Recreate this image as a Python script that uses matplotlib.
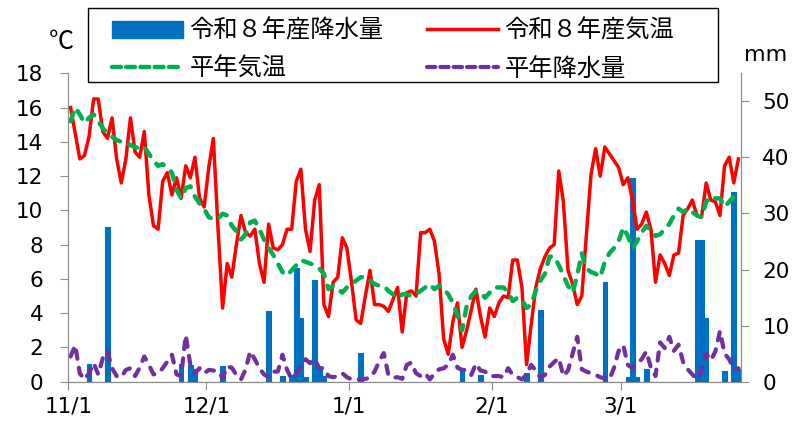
import matplotlib
matplotlib.use("Agg")
import numpy as np
import matplotlib.pyplot as plt
from matplotlib.patches import Patch, Rectangle
from matplotlib.lines import Line2D

plt.rcParams['font.family'] = ['Noto Sans CJK JP', 'DejaVu Sans']

# daily series, 11/1 .. 3/26 (146 days)
temp_r8 = [16.0, 14.5, 13.0, 13.2, 14.3, 16.5, 16.5, 14.6, 14.2, 15.4,
           13.0, 11.6, 13.0, 15.4, 13.4, 13.1, 14.6, 10.9, 9.1, 8.9,
           11.7, 12.2, 10.9, 11.9, 10.7, 12.6, 11.9, 13.1, 10.7, 10.2,
           12.5, 14.2, 9.0, 4.3, 6.9, 6.1, 8.0, 9.7, 8.7, 8.5,
           8.9, 6.9, 5.8, 9.2, 7.8, 7.7, 8.0, 8.9, 8.9, 11.7,
           12.4, 8.9, 7.6, 10.6, 11.5, 4.5, 3.8, 5.8, 6.1, 8.4,
           7.8, 5.8, 3.6, 3.4, 5.0, 6.5, 4.5, 4.5, 4.4, 4.1,
           4.8, 5.5, 2.9, 5.2, 5.3, 5.0, 8.7, 8.7, 8.9, 8.2,
           6.3, 2.5, 1.6, 3.5, 4.6, 2.0, 3.0, 4.2, 5.4, 3.8,
           2.6, 4.3, 3.8, 4.6, 5.0, 4.9, 7.1, 7.1, 5.5, 1.0,
           3.3, 5.5, 6.6, 7.3, 7.8, 8.0, 12.3, 10.5, 6.5, 5.7,
           4.5, 5.0, 8.6, 12.1, 13.6, 12.0, 13.7, 13.3, 12.9, 12.5,
           11.5, 11.9, 10.6, 8.9, 9.2, 9.9, 8.9, 5.8, 7.4, 6.9,
           6.2, 7.4, 7.5, 9.7, 10.1, 10.6, 9.7, 9.6, 11.6, 10.6,
           10.5, 9.7, 12.6, 13.1, 11.6, 13.0]

temp_normal = [15.2, 16.0, 15.6, 15.1, 15.4, 15.6, 15.2, 14.8, 14.5, 14.3,
               14.1, 14.0, 14.0, 13.8, 13.7, 13.6, 13.7, 13.3, 12.9, 12.6,
               12.7, 12.5, 12.2, 11.2, 10.7, 11.3, 11.4, 10.8, 10.4, 10.1,
               9.6, 9.5, 9.5, 9.8, 9.7, 9.1, 8.8, 8.3, 8.6, 9.3,
               9.4, 8.9, 8.3, 7.8, 7.4, 6.9, 6.4, 6.2, 6.5, 6.8,
               7.1, 7.0, 6.9, 6.8, 6.6, 6.3, 5.4, 5.6, 5.4, 5.2,
               5.5, 5.7, 5.9, 6.1, 6.1, 5.9, 5.7, 5.6, 5.6, 5.3,
               5.1, 4.9, 5.1, 5.1, 5.0, 5.1, 5.3, 5.5, 5.7, 5.4,
               5.6, 5.4, 5.1, 4.6, 3.9, 3.0, 4.4, 5.0, 5.3, 5.2,
               4.9, 5.2, 5.5, 5.5, 5.5, 5.2, 4.7, 4.9, 4.8, 4.3,
               4.5, 5.3, 5.9, 6.3, 7.3, 7.3, 6.8, 6.2, 5.6, 5.2,
               6.2, 7.5, 6.6, 6.4, 6.3, 6.1, 7.0, 7.5, 7.8, 8.2,
               9.0, 8.5, 7.8, 8.2, 8.7, 9.1, 8.8, 8.5, 8.6, 8.9,
               9.2, 9.7, 10.1, 9.9, 10.1, 9.9, 9.7, 9.6, 10.5, 10.8,
               10.7, 10.7, 10.2, 10.5, 10.8, 11.0]

rain_r8 = [0, 0, 0, 0, 3.2, 0, 0, 0, 27.6, 0,
           0, 0, 0, 0, 0, 0, 0, 0, 0, 0,
           0, 0, 0, 0, 3.2, 0, 2.9, 2.2, 0, 0,
           0, 0, 0, 2.8, 0, 0, 0, 0, 0, 0,
           0, 0, 0, 12.6, 0, 0, 1.0, 0, 1.2, 20.3,
           11.4, 0.8, 0, 18.2, 2.3, 1.0, 0, 0, 0, 0,
           0, 0, 0, 5.2, 0, 0, 0, 0, 0, 0,
           0, 0, 0, 0, 0, 0, 0, 0, 0, 0,
           0, 0, 0, 0, 0, 2.1, 0, 0, 0, 1.2,
           0, 0, 0, 0, 0, 0, 0, 0, 0, 1.6,
           0, 0, 12.7, 0, 0, 0, 0, 0, 0, 0,
           0, 0, 0, 0, 0, 0, 17.8, 0, 0, 0,
           0, 0.8, 36.4, 0.8, 0, 2.2, 0, 0, 0, 0,
           0, 0, 0, 0, 0, 0, 25.3, 25.3, 11.3, 0,
           0, 0, 1.9, 0, 33.9, 2.2]

rain_normal = [4.5, 6.5, 1.5, 0.4, 1.5, 3.3, 1.3, 4.2, 5.4, 2.4,
               1.0, 0.8, 2.1, 2.4, 1.0, 2.5, 4.5, 3.0, 1.3, 1.5,
               2.4, 3.6, 4.8, 1.3, 1.0, 8.3, 3.0, 1.5, 2.4, 1.5,
               2.1, 2.0, 1.8, 0.7, 2.7, 2.5, 1.2, 0.4, 2.2, 5.4,
               4.0, 2.4, 1.3, 0.8, 1.8, 1.8, 4.8, 2.1, 0.5, 1.5,
               2.5, 4.0, 3.3, 4.0, 2.4, 2.4, 1.0, 0.8, 1.0, 1.5,
               0.8, 0.4, 0.4, 0.4, 0.5, 0.7, 1.8, 3.6, 5.1, 1.2,
               0.7, 0.8, 0.5, 3.0, 3.4, 1.5, 1.0, 1.5, 0.4, 1.5,
               2.2, 2.4, 3.0, 4.8, 2.5, 2.1, 2.1, 1.2, 3.2, 2.0,
               1.8, 1.0, 1.0, 1.0, 0.8, 2.4, 1.2, 0.8, 0.4, 1.3,
               3.0, 2.0, 0.7, 1.2, 2.7, 3.5, 4.2, 1.0, 2.0, 5.0,
               8.0, 2.2, 1.8, 1.5, 1.2, 0.8, 0.6, 0.4, 2.5, 5.5,
               6.5, 3.0, 2.4, 3.2, 4.0, 5.4, 2.5, 1.0, 7.0, 6.0,
               8.0, 5.5, 6.6, 3.5, 2.2, 1.3, 0.4, 2.0, 5.0, 3.8,
               5.4, 9.0, 5.0, 4.0, 2.2, 2.4]

month_labels = ["11/1", "12/1", "1/1", "2/1", "3/1"]
month_start = [0, 30, 61, 92, 120]   # day offset of each month from 11/1

BLUE, RED, GREEN, PURPLE = "#0070C0", "#FF0000", "#00B050", "#7030A0"
GRAY = "#8C8C8C"
NUM_FONT = "DejaVu Sans"

days = np.arange(len(temp_r8))

fig = plt.figure(figsize=(7.95, 4.21), dpi=100)
ax = fig.add_axes([0.0859, 0.0934, 0.8458, 0.7325])
ax2 = ax.twinx()
ax.set_zorder(ax2.get_zorder() + 1)
ax.patch.set_visible(False)

# precipitation on the right axis
ax2.bar(days, rain_r8, width=1.0, color=BLUE, edgecolor=BLUE, linewidth=0.8)
ax2.plot(days, rain_normal, color=PURPLE, lw=3.0, dashes=(2.0, 2.2),
         dash_capstyle="round")

# temperature on the left axis
ax.plot(days, temp_r8, color=RED, lw=2.5)
ax.plot(days, temp_normal, color=GREEN, lw=3.2, dashes=(2.0, 2.2),
        dash_capstyle="round")

ax.set_xlim(-0.5, len(days) - 0.5)
ax.set_ylim(0, 18)
ax.set_yticks(range(0, 19, 2))
ax2.set_ylim(0, 55)
ax2.set_yticks(range(0, 51, 10))
ax.set_xticks([d - 0.5 for d in month_start])
ax.set_xticklabels(month_labels)

for a in (ax, ax2):
    a.spines["top"].set_visible(False)
    for side in ("left", "right", "bottom"):
        a.spines[side].set_color(GRAY)
    a.tick_params(colors=GRAY, labelcolor="black", labelsize=15.5, length=6)
    for lab in a.get_xticklabels() + a.get_yticklabels():
        lab.set_fontfamily(NUM_FONT)
ax.tick_params(axis="y", pad=12)
ax2.tick_params(axis="y", pad=9.5)
ax.tick_params(axis="x", pad=5)

fig.text(0.077, 0.9, "℃", fontsize=18, ha="center", va="center")
fig.text(0.963, 0.87, "mm", fontsize=16, ha="center", va="center",
         fontfamily=NUM_FONT)

# legend: frame drawn separately so it can match the reference box
fig.patches.append(Rectangle((88 / 795, 1 - 82 / 421), 630 / 795, 74 / 421,
                             transform=fig.transFigure, fill=True,
                             facecolor="white", edgecolor="black", lw=1.0,
                             zorder=5))
handles = [Patch(color=BLUE),
           Line2D([], [], color=GREEN, lw=3.2, dashes=(2.0, 1.2), dash_capstyle="round"),
           Line2D([], [], color=RED, lw=2.5),
           Line2D([], [], color=PURPLE, lw=3.0, dashes=(2.0, 1.2), dash_capstyle="round")]
labels = ["令和８年産降水量", "平年気温", "令和８年産気温", "平年降水量"]
leg = fig.legend(handles, labels, ncol=2, loc="upper left",
                 bbox_to_anchor=(95 / 795, 1 - 1 / 421), fontsize=17.5,
                 handlelength=2.9, handleheight=0.75, handletextpad=0.28,
                 columnspacing=1.8, labelspacing=0.5, borderpad=0.2,
                 frameon=False)
leg.set_zorder(6)

fig.savefig("out.png", dpi=100)
